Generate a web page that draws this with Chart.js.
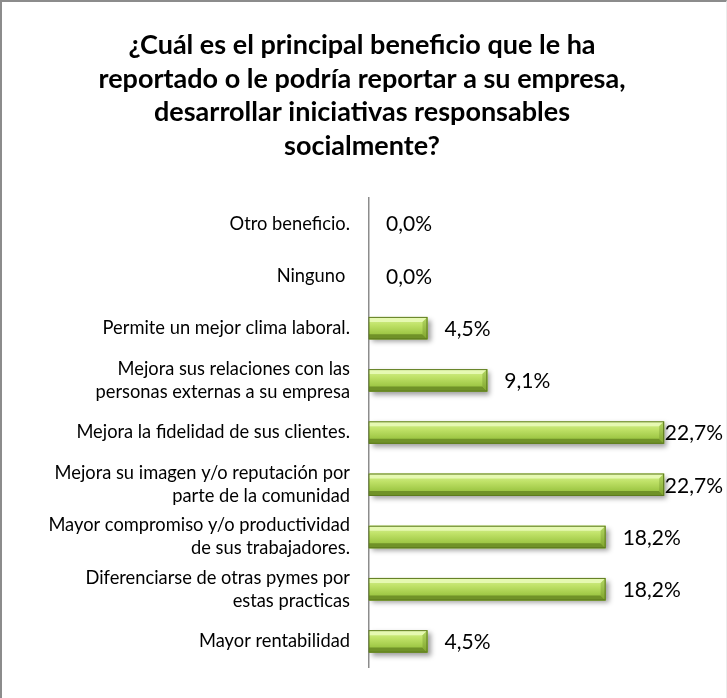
<!DOCTYPE html>
<html>
<head>
<meta charset="utf-8">
<script src="https://cdn.jsdelivr.net/npm/chart.js@4"></script>
<style>
  html, body { margin: 0; padding: 0; background: #fff; }
  #frame {
    width: 727px; height: 698px; box-sizing: border-box;
    border-top: 2px solid #8c8c8c; border-left: 2px solid #8c8c8c;
    border-right: 1px solid #ececec;
  }
  #chart { display: block; }
</style>
</head>
<body>
<div id="frame"><canvas id="chart" width="724" height="696"></canvas></div>
<script>
// =====================
// DATA
// =====================
const TITLE = [
  "¿Cuál es el principal beneficio que le ha",
  "reportado o le podría reportar a su empresa,",
  "desarrollar iniciativas responsables",
  "socialmente?"
];

const categories = [
  "Otro beneficio.",
  "Ninguno ",
  "Permite un mejor clima laboral.",
  ["Mejora sus relaciones con las", "personas externas a su empresa"],
  "Mejora la fidelidad de sus clientes.",
  ["Mejora su imagen y/o reputación por", "parte de la comunidad"],
  ["Mayor compromiso y/o productividad", "de sus trabajadores."],
  ["Diferenciarse de otras pymes por", "estas practicas"],
  "Mayor rentabilidad"
];

const percentages = [0.0, 0.0, 4.5, 9.1, 22.7, 22.7, 18.2, 18.2, 4.5];

const FONT = "Lato, 'Open Sans', sans-serif";

function fmtPct(v) {
  return v.toFixed(1).replace(".", ",") + "%";
}

// =====================
// PLUGINS
// =====================
// soft drop shadow under the bars
const barShadow = {
  id: "barShadow",
  beforeDatasetsDraw(chart) {
    const ctx = chart.ctx;
    ctx.save();
    ctx.shadowColor = "rgba(0,0,0,0.38)";
    ctx.shadowBlur = 5;
    ctx.shadowOffsetX = 3;
    ctx.shadowOffsetY = 3;
  },
  afterDatasetsDraw(chart) {
    chart.ctx.restore();
  }
};

// bevelled green look + value labels
const bevelAndLabels = {
  id: "bevelAndLabels",
  afterDatasetsDraw(chart) {
    const ctx = chart.ctx;
    const meta = chart.getDatasetMeta(0);
    meta.data.forEach((bar, i) => {
      const L = bar.base, R = bar.x;
      const T = bar.y - bar.height / 2, B = bar.y + bar.height / 2;
      const w = R - L;
      if (w > 1) {
        const b = Math.min(5, w / 2);
        ctx.save();
        // front face
        const g = ctx.createLinearGradient(0, T, 0, B);
        g.addColorStop(0, "#d8f297");
        g.addColorStop(0.35, "#c0e268");
        g.addColorStop(0.7, "#a3cb4a");
        g.addColorStop(1, "#8bb636");
        ctx.fillStyle = g;
        ctx.fillRect(L, T, w, B - T);
        // top bevel
        ctx.fillStyle = "#e6f9b2";
        ctx.beginPath();
        ctx.moveTo(L, T); ctx.lineTo(R, T); ctx.lineTo(R - b, T + b); ctx.lineTo(L, T + b);
        ctx.closePath(); ctx.fill();
        // bottom bevel
        ctx.fillStyle = "#709228";
        ctx.beginPath();
        ctx.moveTo(L, B - b); ctx.lineTo(R - b, B - b); ctx.lineTo(R, B); ctx.lineTo(L, B);
        ctx.closePath(); ctx.fill();
        // right bevel
        const gr = ctx.createLinearGradient(0, T, 0, B);
        gr.addColorStop(0, "#b4d865");
        gr.addColorStop(1, "#7fa42c");
        ctx.fillStyle = gr;
        ctx.beginPath();
        ctx.moveTo(R - b, T + b); ctx.lineTo(R, T); ctx.lineTo(R, B); ctx.lineTo(R - b, B - b);
        ctx.closePath(); ctx.fill();
        // outline
        ctx.strokeStyle = "#5d7a1e";
        ctx.lineWidth = 1;
        ctx.strokeRect(L, T + 0.5, w - 0.5, B - T - 1);
        ctx.restore();
      }

      // value label
      ctx.save();
      ctx.font = "21px " + FONT;
      ctx.fillStyle = "#000";
      ctx.textBaseline = "middle";
      const txt = fmtPct(percentages[i]);
      const tw = ctx.measureText(txt).width;
      let x = R + 17;
      if (x + tw > chart.width - 3) x = chart.width - 3 - tw;
      ctx.fillText(txt, x, bar.y + 1);
      ctx.restore();
    });
  }
};

// =====================
// CHART
// =====================
new Chart(document.getElementById("chart"), {
  type: "bar",
  data: {
    labels: categories,
    datasets: [
      {
        data: percentages,
        backgroundColor: "#9dc547",
        borderWidth: 0,
        barPercentage: 0.43,
        categoryPercentage: 1
      }
    ]
  },
  options: {
    indexAxis: "y",
    responsive: false,
    animation: false,
    layout: { padding: { left: 0, right: 4, top: 0, bottom: 27 } },
    plugins: {
      legend: { display: false },
      tooltip: { enabled: false },
      title: {
        display: true,
        text: TITLE,
        color: "#000",
        font: { family: FONT, size: 27, weight: "bold", lineHeight: 1.237 },
        padding: { top: 27, bottom: 35 }
      }
    },
    scales: {
      // 13px per percent point from the axis to the right edge
      x: { display: false, min: 0, max: 27.15 },
      y: {
        afterFit(scale) { scale.width = 367; },
        grid: { display: false, drawTicks: false },
        border: { display: true, color: "#8c8c8c", width: 1.5 },
        ticks: {
          color: "#000",
          padding: 19,
          font: { family: FONT, size: 18.3, lineHeight: 1.26 }
        }
      }
    }
  },
  plugins: [barShadow, bevelAndLabels]
});
</script>
</body>
</html>
